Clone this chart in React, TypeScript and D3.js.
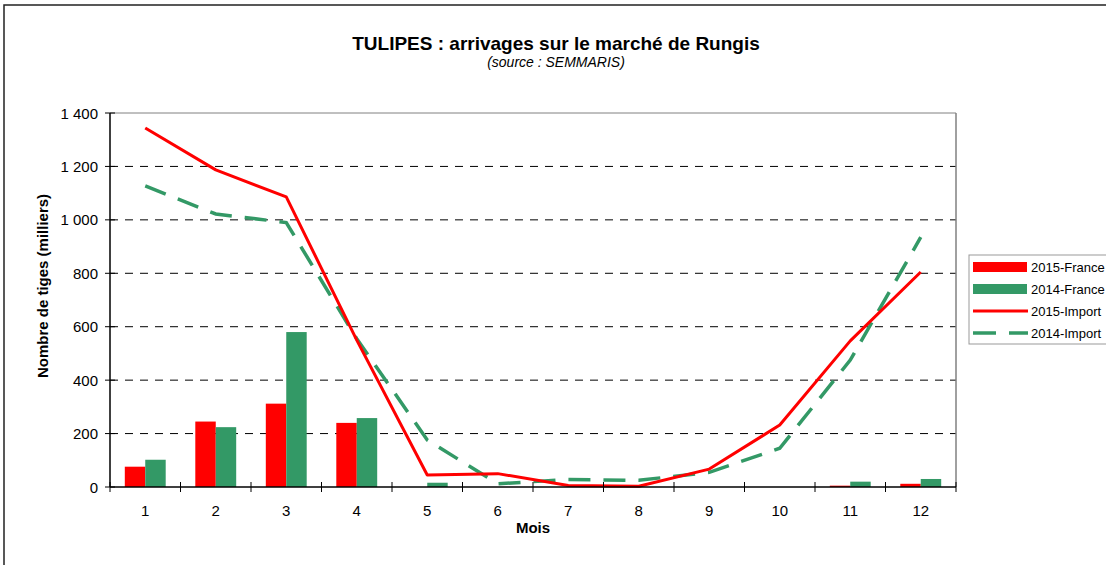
import React from "react";
import * as d3 from "d3";

const months = ["1", "2", "3", "4", "5", "6", "7", "8", "9", "10", "11", "12"];
const france2015 = [76, 245, 312, 240, 0, 0, 0, 0, 0, 0, 5, 12];
const france2014 = [102, 224, 580, 258, 16, 0, 0, 0, 0, 0, 20, 30];
const import2015 = [1344, 1187, 1086, 550, 45, 50, 6, 3, 67, 232, 547, 805];
const import2014 = [1127, 1022, 990, 555, 176, 12, 28, 25, 55, 145, 475, 935];
const yTicks = [0, 200, 400, 600, 800, 1000, 1200, 1400];
const barSeries = ["2015-France", "2014-France"];

const RED = "#FF0000";
const GREEN = "#339966";
const FONT = "'Liberation Sans', Arial, sans-serif";

export default function App() {
  const W = 1106, H = 565;
  const L = 110, R = 956, T = 113, B = 487;
  const x = d3.scaleBand<string>().domain(months).range([L, R]);
  const bw = x.bandwidth();
  const x1 = d3.scaleBand<string>().domain(barSeries).range([bw * 0.21, bw * 0.79]);
  const y = d3.scaleLinear().domain([0, 1400]).range([B, T]);
  const loc = d3.formatLocale({ decimal: ",", thousands: " ", grouping: [3], currency: ["", ""] });
  const fmt = loc.format(",");
  const line = d3
    .line<number>()
    .x((_, i) => (x(months[i]) as number) + bw / 2)
    .y((d) => y(d));

  const legendItems = [
    { label: "2015-France", type: "bar", color: RED },
    { label: "2014-France", type: "bar", color: GREEN },
    { label: "2015-Import", type: "line", color: RED },
    { label: "2014-Import", type: "dash", color: GREEN },
  ];

  return (
    <svg width={W} height={H} style={{ position: "absolute", left: 0, top: 0, background: "#fff" }} fontFamily={FONT}>
      <rect x={4} y={5} width={1120} height={580} fill="#fff" stroke="#222" strokeWidth={1.5} />
      <text x={556} y={50} textAnchor="middle" fontSize={19} fontWeight="bold">
        TULIPES : arrivages sur le marché de Rungis
      </text>
      <text x={556} y={67} textAnchor="middle" fontSize={14} fontStyle="italic">
        (source : SEMMARIS)
      </text>

      {/* grid */}
      {yTicks.filter((t) => t > 0 && t < 1400).map((t) => (
        <line key={t} x1={L} x2={R} y1={y(t)} y2={y(t)} stroke="#000" strokeWidth={1} strokeDasharray="8,7" />
      ))}
      {/* plot border top/right */}
      <line x1={L} x2={R} y1={T} y2={T} stroke="#808080" strokeWidth={1} />
      <line x1={R} x2={R} y1={T} y2={B} stroke="#808080" strokeWidth={1.5} />

      {/* bars */}
      {months.map((m, i) => (
        <g key={m}>
          {france2015[i] > 0 && (
            <rect x={(x(m) as number) + (x1("2015-France") as number)} y={y(france2015[i])}
              width={x1.bandwidth()} height={B - y(france2015[i])} fill={RED} />
          )}
          {france2014[i] > 0 && (
            <rect x={(x(m) as number) + (x1("2014-France") as number)} y={y(france2014[i])}
              width={x1.bandwidth()} height={B - y(france2014[i])} fill={GREEN} />
          )}
        </g>
      ))}

      {/* lines */}
      <path d={line(import2014) || ""} fill="none" stroke={GREEN} strokeWidth={3.5} strokeDasharray="22,13" />
      <path d={line(import2015) || ""} fill="none" stroke={RED} strokeWidth={3} strokeLinejoin="round" />

      {/* axes */}
      <line x1={L} x2={L} y1={T} y2={B} stroke="#000" strokeWidth={1.5} />
      <line x1={L} x2={R} y1={B} y2={B} stroke="#000" strokeWidth={1.5} />
      {yTicks.map((t) => (
        <g key={t}>
          <line x1={L - 5} x2={L + 5} y1={y(t)} y2={y(t)} stroke="#000" strokeWidth={1} />
          <text x={98} y={y(t) + 5.5} textAnchor="end" fontSize={15}>{fmt(t)}</text>
        </g>
      ))}
      {months.map((m) => (
        <g key={m}>
          <line x1={x(m) as number} x2={x(m) as number} y1={B - 5} y2={B + 5} stroke="#000" strokeWidth={1} />
          <text x={(x(m) as number) + bw / 2} y={516} textAnchor="middle" fontSize={15}>{m}</text>
        </g>
      ))}
      <line x1={R} x2={R} y1={B - 5} y2={B + 5} stroke="#000" strokeWidth={1} />

      <text x={533} y={533} textAnchor="middle" fontSize={15} fontWeight="bold">Mois</text>
      <text transform={`translate(48,286) rotate(-90)`} textAnchor="middle" fontSize={15} fontWeight="bold">
        Nombre de tiges (milliers)
      </text>

      {/* legend */}
      <rect x={969} y={255} width={150} height={89} fill="#fff" stroke="#999" strokeWidth={1} />
      {legendItems.map((it, i) => {
        const cy = 267 + i * 22;
        return (
          <g key={it.label}>
            {it.type === "bar" && <rect x={973} y={cy - 5} width={54} height={10} fill={it.color} />}
            {it.type === "line" && <line x1={973} x2={1028} y1={cy} y2={cy} stroke={it.color} strokeWidth={3} />}
            {it.type === "dash" && (
              <line x1={973} x2={1028} y1={cy} y2={cy} stroke={it.color} strokeWidth={3.5} strokeDasharray="23,13" />
            )}
            <text x={1031} y={cy + 4.5} fontSize={13}>{it.label}</text>
          </g>
        );
      })}
    </svg>
  );
}
